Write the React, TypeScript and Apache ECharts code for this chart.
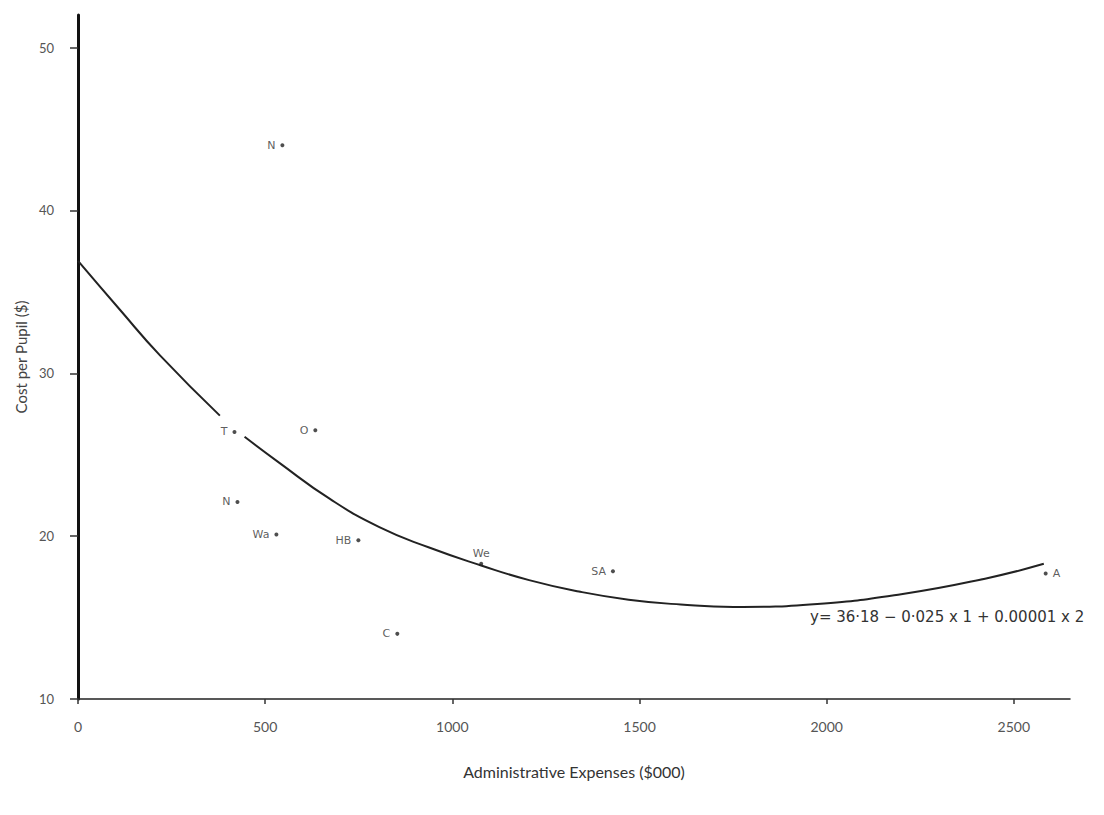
import React, { useEffect, useRef } from "react";
import * as echarts from "echarts";

const districts = ["N", "T", "O", "N", "Wa", "HB", "We", "SA", "C", "A"];
const adminExpenses = [546, 418, 634, 426, 530, 749, 1077, 1429, 853, 2585];
const costPerPupil = [44.0, 26.4, 26.5, 22.1, 20.1, 19.75, 18.3, 17.85, 14.0, 17.7];

const curveUpperX = [0, 112, 219, 379];
const curveUpperY = [36.9, 33.9, 31.1, 27.4];
const curveLowerX = [445, 538, 672, 805, 938, 1077, 1205, 1338, 1471, 1610, 1751, 1975, 2199, 2423, 2580];
const curveLowerY = [26.1, 24.5, 22.3, 20.55, 19.3, 18.2, 17.3, 16.6, 16.1, 15.8, 15.65, 15.84, 16.43, 17.39, 18.3];

const equationText = "y= 36·18 − 0·025 x 1 + 0.00001 x 2";

const labelSide: Record<string, string> = { A: "right", We: "top" };

const FONT = "Lato, 'DejaVu Sans', sans-serif";

export default function App() {
  const ref = useRef<HTMLDivElement>(null);
  useEffect(() => {
    if (!ref.current) return;
    const chart = echarts.init(ref.current, undefined, { renderer: "svg" });
    const points = districts.map((d, i) => ({
      value: [adminExpenses[i], costPerPupil[i]],
      name: d,
      label: {
        show: true,
        formatter: d,
        position: labelSide[d] || "left",
        distance: labelSide[d] === "top" ? 3 : 5,
        color: "#333",
        fontFamily: "'DejaVu Sans', sans-serif",
        fontSize: 11,
      },
    }));
    const lineStyle = { color: "#222", width: 2 };
    chart.setOption({
      animation: false,
      backgroundColor: "#ffffff",
      grid: { left: 78, right: 34, top: 15, bottom: 116, containLabel: false },
      xAxis: {
        type: "value",
        min: 0,
        max: 2650,
        interval: 500,
        name: "Administrative Expenses ($000)",
        nameLocation: "middle",
        nameGap: 64,
        nameTextStyle: { fontFamily: FONT, fontSize: 16, color: "#333" },
        axisLine: { show: true, onZero: false, lineStyle: { color: "#222", width: 1.5 } },
        axisTick: { show: true, length: 5, lineStyle: { color: "#333", width: 1.5 } },
        axisLabel: {
          fontFamily: FONT,
          fontSize: 14,
          color: "#555",
          margin: 20,
          showMaxLabel: false,
          formatter: (v: number) => String(v),
        },
        splitLine: { show: false },
      },
      yAxis: {
        type: "value",
        min: 10,
        max: 52,
        interval: 10,
        name: "Cost per Pupil ($)",
        nameLocation: "middle",
        nameGap: 50,
        nameTextStyle: { fontFamily: FONT, fontSize: 15, color: "#444" },
        axisLine: { show: true, onZero: false, lineStyle: { color: "#111", width: 3 } },
        axisTick: { show: true, length: 8, lineStyle: { color: "#333", width: 1.5 } },
        axisLabel: {
          fontFamily: FONT,
          fontSize: 13,
          color: "#555",
          margin: 24,
          showMaxLabel: false,
          formatter: (v: number) => String(v),
        },
        splitLine: { show: false },
      },
      series: [
        {
          type: "line",
          data: curveUpperX.map((x, i) => [x, curveUpperY[i]]),
          smooth: 0.5,
          showSymbol: false,
          lineStyle,
          silent: true,
        },
        {
          type: "line",
          data: curveLowerX.map((x, i) => [x, curveLowerY[i]]),
          smooth: 0.5,
          showSymbol: false,
          lineStyle,
          silent: true,
        },
        {
          type: "scatter",
          data: points,
          symbolSize: 4,
          itemStyle: { color: "#222" },
        },
      ],
      graphic: [
        {
          type: "text",
          left: 810,
          top: 609,
          style: {
            text: equationText,
            fontFamily: "'DejaVu Sans', sans-serif",
            fontSize: 15,
            fill: "#333",
          },
        },
      ],
    });
    return () => chart.dispose();
  }, []);
  return (
    <div
      ref={ref}
      style={{ position: "absolute", left: 0, top: 0, width: 1104, height: 815 }}
    />
  );
}
